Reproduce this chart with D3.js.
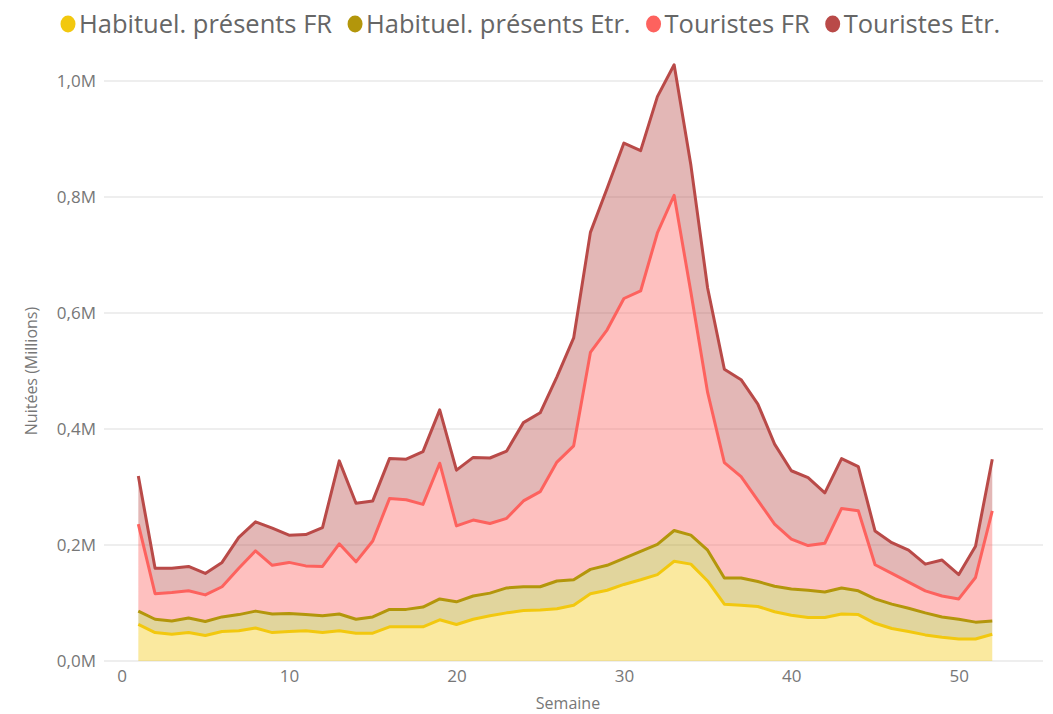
<!DOCTYPE html>
<html>
<head>
<meta charset="utf-8">
<script src="https://cdn.jsdelivr.net/npm/d3@7"></script>
<style>
  body { margin: 0; background: #fff; }
  svg { display: block; font-family: "Segoe UI", "Open Sans", sans-serif; }
</style>
</head>
<body>
<div id="chart"></div>
<script>
// Données : nuitées hebdomadaires (en milliers), semaines 1 à 52
const semaines = d3.range(1, 53);
const seriesNames = ['Habituel. présents FR', 'Habituel. présents Etr.', 'Touristes FR', 'Touristes Etr.'];
const habFR = [63, 49, 46, 49, 44, 51, 52, 57, 49, 51, 52, 49, 52, 48, 48, 59, 59, 59, 71, 63, 72, 78, 83, 87, 88, 90,
               96, 116, 122, 132, 140, 149, 172, 167, 138, 98, 96, 94, 85, 79, 75, 75, 81, 80, 65, 56, 51, 45, 41, 38, 38, 46];
const habEtr = [23, 23, 23, 25, 24, 25, 28, 29, 32, 31, 28, 29, 29, 24, 28, 30, 30, 34, 36, 39, 40, 39, 43, 41, 40, 48,
                44, 42, 43, 45, 49, 52, 53, 50, 53, 45, 47, 43, 44, 45, 47, 44, 45, 41, 42, 42, 40, 38, 35, 34, 29, 23];
const tourFR = [150, 44, 49, 47, 46, 52, 80, 104, 84, 88, 84, 85, 121, 99, 131, 191, 189, 177, 234, 131, 131, 120, 120, 148, 164, 205,
                231, 374, 406, 448, 449, 537, 578, 419, 272, 199, 175, 140, 107, 86, 77, 84, 137, 138, 59, 53, 45, 38, 36, 35, 77, 190];
const tourEtr = [83, 44, 42, 42, 37, 42, 53, 50, 64, 47, 54, 67, 143, 101, 69, 69, 70, 91, 92, 96, 108, 113, 116, 135, 136, 147,
                 186, 207, 244, 268, 242, 235, 225, 219, 180, 161, 167, 166, 138, 118, 117, 87, 86, 76, 58, 53, 55, 46, 62, 42, 54, 89];
const colors = ['#F2C80F', '#B3960B', '#FD625E', '#B94A48'];
const yTicks = [0, 0.2, 0.4, 0.6, 0.8, 1.0];
const xTicks = [0, 10, 20, 30, 40, 50];

const width = 1053, height = 714;
const svg = d3.select('#chart').append('svg')
    .attr('width', width)
    .attr('height', height);

// Construire le tableau pour d3.stack (valeurs en millions)
const table = semaines.map((s, i) => ({
    semaine: s,
    s0: habFR[i] / 1000,
    s1: habEtr[i] / 1000,
    s2: tourFR[i] / 1000,
    s3: tourEtr[i] / 1000
}));
const stacked = d3.stack().keys(['s0', 's1', 's2', 's3'])(table);

const x = d3.scaleLinear().domain([-1.05, 55.03]).range([104, 1043]);
const y = d3.scaleLinear().domain([0, 1]).range([661, 81]);

// Grille horizontale
svg.append('g')
    .selectAll('line')
    .data(yTicks)
    .enter()
    .append('line')
    .attr('x1', 104)
    .attr('x2', 1043)
    .attr('y1', d => y(d))
    .attr('y2', d => y(d))
    .attr('stroke', '#e9e9e9')
    .attr('stroke-width', 1.5);

// Axe Y (étiquettes)
const yAxis = svg.append('g')
    .attr('transform', 'translate(104,0)')
    .call(d3.axisLeft(y).tickValues(yTicks).tickSize(0).tickPadding(8)
        .tickFormat(d => d.toFixed(1).replace('.', ',') + 'M'));
yAxis.select('.domain').remove();
yAxis.selectAll('text')
    .attr('fill', '#777')
    .attr('font-size', '17px')
    .attr('font-family', '"Segoe UI", "Open Sans", sans-serif');

// Axe X (étiquettes)
const xAxis = svg.append('g')
    .attr('transform', 'translate(0,661)')
    .call(d3.axisBottom(x).tickValues(xTicks).tickSize(0).tickPadding(9).tickFormat(d3.format('d')));
xAxis.select('.domain').remove();
xAxis.selectAll('text')
    .attr('fill', '#777')
    .attr('font-size', '17px')
    .attr('font-family', '"Segoe UI", "Open Sans", sans-serif');

// Titres des axes
svg.append('text')
    .attr('x', 568)
    .attr('y', 709)
    .attr('text-anchor', 'middle')
    .attr('fill', '#777')
    .attr('font-size', '16px')
    .text('Semaine');

svg.append('text')
    .attr('transform', 'translate(37,371) rotate(-90)')
    .attr('text-anchor', 'middle')
    .attr('fill', '#777')
    .attr('font-size', '16px')
    .text('Nuitées (Millions)');

// Aires empilées
const area = d3.area()
    .x(d => x(d.data.semaine))
    .y0(d => y(d[0]))
    .y1(d => y(d[1]));

svg.append('g')
    .selectAll('path')
    .data(stacked)
    .enter()
    .append('path')
    .attr('d', area)
    .attr('fill', (d, i) => colors[i])
    .attr('fill-opacity', 0.4);

// Lignes du haut de chaque couche
const line = d3.line()
    .x(d => x(d.data.semaine))
    .y(d => y(d[1]));

svg.append('g')
    .selectAll('path')
    .data(stacked)
    .enter()
    .append('path')
    .attr('d', line)
    .attr('fill', 'none')
    .attr('stroke', (d, i) => colors[i])
    .attr('stroke-width', 3)
    .attr('stroke-linejoin', 'round');

// Légende
const legend = svg.append('g').attr('transform', 'translate(0,24)');
let lx = 68;
seriesNames.forEach((name, i) => {
    const item = legend.append('g').attr('transform', `translate(${lx},0)`);
    item.append('ellipse')
        .attr('cx', 0)
        .attr('cy', 0)
        .attr('rx', 7.5)
        .attr('ry', 8.5)
        .attr('fill', colors[i]);
    const t = item.append('text')
        .attr('x', 11)
        .attr('y', 9)
        .attr('fill', '#666')
        .attr('font-size', '25.5px')
        .text(name);
    lx += 11 + t.node().getComputedTextLength() + 23;
});
</script>
</body>
</html>
